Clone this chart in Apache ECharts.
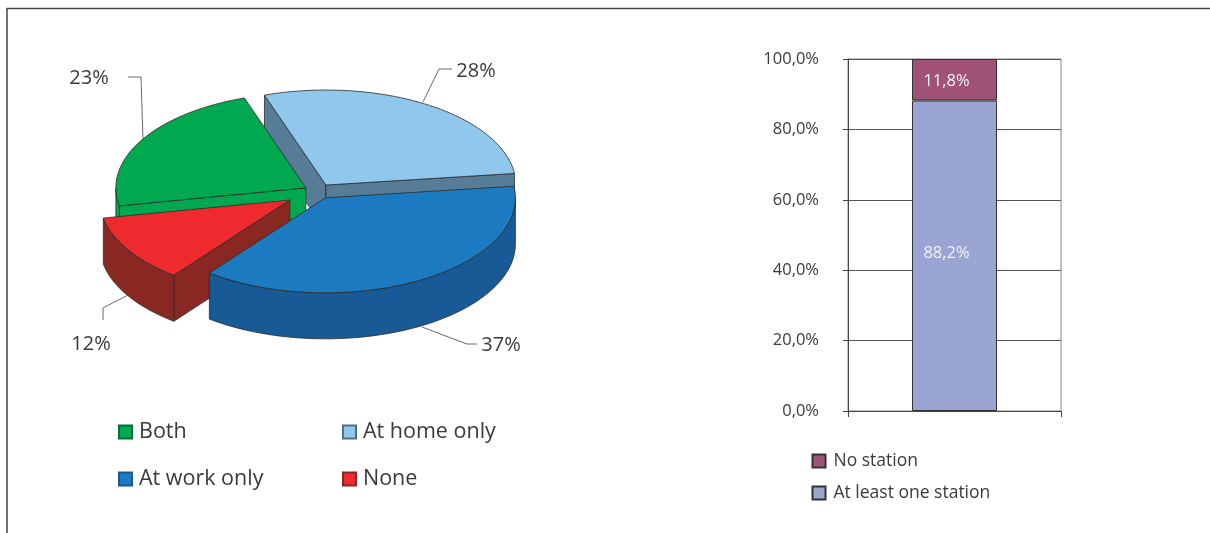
<!DOCTYPE html>
<html><head><meta charset="utf-8">
<style>html,body{margin:0;padding:0;background:#fff}#c{width:1210px;height:533px}</style>
<script src="https://cdn.jsdelivr.net/npm/echarts@6/dist/echarts.min.js"></script>
</head><body><div id="c"></div>
<script>
// ---- data ----
const pieNames  = ['At work only', 'At home only', 'Both', 'None'];
const pieValues = [37.4, 28.3, 22.8, 11.5];
const pieLabels = ['37%', '28%', '23%', '12%'];
const barCategories = [''];
const atLeastOne = [88.2];
const noStation  = [11.8];
const barTicks = ['0,0%', '20,0%', '40,0%', '60,0%', '80,0%', '100,0%'];

// ---- pie projection ----
const FONT = '"Open Sans", sans-serif';
const TXT = '#3a3a3a';
const P = {cx: 318, cy: 191.35, a: 190, b: 95, depth: 46, start: -7};
const sliceStyle = {
  'At work only': {top: '#1C7AC1', wall: '#185A96', legendEdge: '#185A96', explode: .0786, paint: 3,
                   label: [501, 345], leader: [[422,327],[467,344],[477,344]]},
  'At home only': {top: '#8FC8EC', wall: '#567C98', legendEdge: '#4F6F88', explode: .0786, paint: 0,
                   label: [476, 71], leader: [[423,102],[439,69],[452,69]]},
  'Both':         {top: '#00A84F', wall: '#00A84F', legendEdge: '#00713A', explode: .0737, paint: 1,
                   label: [89, 78], leader: [[143,140],[141,77],[128,77]]},
  'None':         {top: '#EE2A2E', wall: '#892723', legendEdge: '#892723', explode: .174, paint: 2,
                   label: [91, 344], leader: [[128,295],[103,308],[103,320]]}
};
const total = pieValues.reduce((s, v) => s + v, 0);
const EDGE = {stroke: '#2b2b2b', lineWidth: .8};

function arcPts(x, y, a0, a1, dy) {
  const pts = [], n = Math.max(2, Math.ceil(Math.abs(a1 - a0) / 2));
  for (let i = 0; i <= n; i++) {
    const t = (a0 + (a1 - a0) * i / n) * Math.PI / 180;
    pts.push([x + P.a * Math.cos(t), y + P.b * Math.sin(t) + (dy || 0)]);
  }
  return pts;
}
function poly(points, fill) {
  return {type: 'polygon', shape: {points}, style: Object.assign({fill}, EDGE)};
}
function pieSeries(name, i) {
  const st = sliceStyle[name];
  return {
    type: 'custom', name, coordinateSystem: 'none', z: 2 + st.paint, silent: true,
    itemStyle: {color: st.top, borderColor: st.legendEdge, borderWidth: 1},
    data: [pieValues[i]],
    renderItem(params, api) {
      // first slice runs clockwise from the start angle, the others anticlockwise
      const sweep = api.value(0) / total * 360;
      let s, e;
      if (i === 0) { s = P.start; e = P.start + sweep; }
      else {
        const back = pieValues.slice(1, i).reduce((t, v) => t + v, 0) / total * 360;
        e = P.start - back; s = e - sweep;
      }
      const mid = (s + e) / 2 * Math.PI / 180;
      const x = P.cx + st.explode * P.a * Math.cos(mid);
      const y = P.cy + st.explode * P.b * Math.sin(mid);
      const d = P.depth;
      const ps = arcPts(x, y, s, s)[0], pe = arcPts(x, y, e, e)[0];
      const children = [];
      // cut faces: only those turned towards the viewer
      if (Math.cos(s * Math.PI / 180) < 0) children.push(poly([[x,y],ps,[ps[0],ps[1]+d],[x,y+d]], st.wall));
      if (Math.cos(e * Math.PI / 180) > 0) children.push(poly([[x,y],pe,[pe[0],pe[1]+d],[x,y+d]], st.wall));
      // outer rim: front half only (sin > 0)
      for (const k of [-360, 0, 360]) {
        const lo = Math.max(s, k), hi = Math.min(e, k + 180);
        if (hi > lo) children.push(poly(arcPts(x, y, lo, hi).concat(arcPts(x, y, hi, lo, d)), st.wall));
      }
      children.push(poly([[x,y]].concat(arcPts(x, y, s, e)), st.top));
      return {type: 'group', children};
    }
  };
}
// leader lines and labels
const pieAnnotations = pieNames.flatMap((name, i) => {
  const st = sliceStyle[name];
  return [
    {type: 'polyline', z: 20, shape: {points: st.leader}, style: {stroke: '#444', fill: null, lineWidth: .8}},
    {type: 'text', z: 20, x: st.label[0], y: st.label[1],
     style: {text: pieLabels[i], fill: TXT, font: '20px ' + FONT, align: 'center', verticalAlign: 'middle'}}
  ];
});

const chart = echarts.init(document.getElementById('c'), null, {renderer: 'canvas'});
const legendText = {color: TXT, fontFamily: FONT, fontSize: 21.5, padding: [0, 0, 0, 2]};
const barLegendText = {color: TXT, fontFamily: FONT, fontSize: 17.5, padding: [0, 0, 0, 3]};
const barLabel = offset => ({show: true, position: 'inside', offset, color: '#F2F2F8', fontFamily: FONT, fontSize: 16.5,
  formatter: p => p.value.toFixed(1).replace('.', ',') + '%'});
chart.setOption({
  animation: false,
  backgroundColor: '#fff',
  graphic: [
    {type: 'polyline', shape: {points: [[7,533],[7,8.5],[1210,8.5]]},
     style: {stroke: '#444', fill: null, lineWidth: 1.5}},
    ...pieAnnotations
  ],
  legend: [
    {left: 113, top: 416, orient: 'vertical', itemWidth: 13, itemHeight: 13, itemGap: 25, icon: 'rect',
     data: ['Both', 'At work only'], textStyle: legendText, selectedMode: false},
    {left: 337, top: 416, orient: 'vertical', itemWidth: 13, itemHeight: 13, itemGap: 25, icon: 'rect',
     data: ['At home only', 'None'], textStyle: legendText, selectedMode: false},
    {left: 806.5, top: 447, orient: 'vertical', itemWidth: 13, itemHeight: 13, itemGap: 14, icon: 'rect',
     data: ['No station', 'At least one station'], textStyle: barLegendText, selectedMode: false}
  ],
  grid: {left: 848, top: 59, width: 213, height: 352, show: true, borderColor: '#888', borderWidth: 1},
  xAxis: {type: 'category', data: barCategories, boundaryGap: true,
    axisLine: {lineStyle: {color: '#444'}}, axisTick: {show: true, length: 6, lineStyle: {color: '#444'}}, axisLabel: {show: false}},
  yAxis: {type: 'value', min: 0, max: 100, interval: 20,
    axisLine: {show: true, lineStyle: {color: '#444'}}, axisTick: {show: true, length: 5, lineStyle: {color: '#444'}},
    splitLine: {lineStyle: {color: '#555'}},
    axisLabel: {color: TXT, fontFamily: FONT, fontSize: 16.5, margin: 29,
      formatter: v => barTicks[v / 20]}},
  series: [
    ...pieNames.map(pieSeries),
    {name: 'At least one station', type: 'bar', stack: 's', barWidth: 85, data: atLeastOne,
     itemStyle: {color: '#9AA5D3', borderColor: '#333', borderWidth: 1}, label: barLabel([-8, -2])},
    {name: 'No station', type: 'bar', stack: 's', barWidth: 85, data: noStation,
     itemStyle: {color: '#A05277', borderColor: '#333', borderWidth: 1}, label: barLabel([-8, 2])}
  ]
});
</script></body></html>
